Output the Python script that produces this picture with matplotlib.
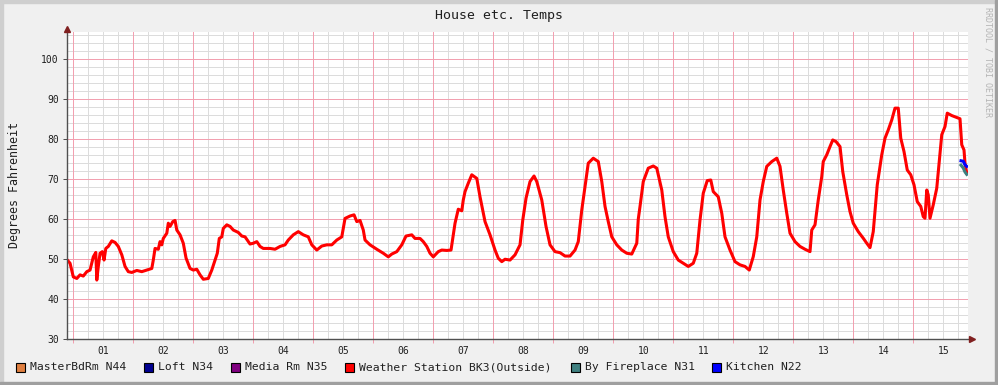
import matplotlib
matplotlib.use("Agg")
import numpy as np
from matplotlib import pyplot as plt
from matplotlib.patches import Rectangle

# hours since midnight of day 01, temperature in F
outside_hours = [
    -2.4, -1.3, 0, 1.4, 2.7, 4, 5.4, 6.7, 8, 9, 9.4, 10, 10.7, 11.6, 12.3, 13, 14, 15.4,
    16.7, 18, 19.4, 20.7, 22, 23.4, 25.4, 27.4, 29.4, 31.4, 32, 32.7, 34, 34.7, 35.4, 36,
    37.4, 38, 38.7, 39.8, 40.7, 41.4, 42.7, 44, 45.1, 46.7, 48, 49.4, 50.7, 52, 54, 55.4,
    56.7, 57.6, 58.4, 59.4, 60, 61.4, 62.7, 64, 66, 67.4, 68.7, 70.7, 72, 73.4, 74.7,
    76, 78.7, 80.7, 82.7, 84.7, 86, 88, 90, 92, 94, 95.4, 97.4, 99.4, 101.4, 103.4, 105.4,
    107.4, 108.7, 110.7, 112.3, 113.4, 114.7, 116, 116.7, 118.7, 121.4, 124, 126, 127.4,
    129.4, 131.4, 133.1, 135.4, 136.7, 138.7, 140, 141.4, 142.7, 144, 146, 147.4, 149.4,
    151.1, 152.7, 154, 155.4, 156, 156.7, 158, 159.4, 161.4, 162.7, 164.7, 166.7, 168.7,
    170, 171.4, 172.7, 174.7, 176.7, 178.7, 179.8, 181.1, 182.7, 184.3, 185.4, 187.4,
    189.1, 190.7, 192.7, 194.7, 196.7, 198.7, 200.7, 202, 203.4, 204.7, 206, 208, 210,
    211.4, 212.7, 214, 215.4, 217.4, 219.4, 221.4, 223.4, 225.4, 226, 226.7, 228, 230,
    232, 233.4, 235.4, 236.7, 238, 240, 242, 244, 246, 248, 249.4, 250.7, 252, 253.6,
    255, 256, 258, 259.4, 260.7, 262.7, 264.7, 266.7, 268.7, 270.4, 272, 273.4, 274.7,
    276, 277.4, 279.4, 281.4, 282.7, 284, 285.4, 286.7, 288.7, 290.7, 292.7, 294.7,
    295.4, 296.7, 298, 299.4, 300, 301.4, 302.7, 303.8, 305.1, 306.7, 307.8, 309.4,
    310.7, 312, 314, 316, 317.4, 318.7, 320, 321.6, 323.4, 324.7, 326, 327.4, 328.7, 330,
    331, 332.3, 333.6, 335, 336.3, 337.6, 339, 340, 340.7, 341.4, 342, 342.7, 344, 345.4,
    346.4, 347.4, 348.7, 349.6, 351.4, 353.4, 354.7, 355.4, 356.3, 356.7, 357.4,
]
outside_temp = [
    49.8, 49, 45.6, 45.2, 46.1, 45.8, 46.9, 47.3, 50.6, 51.7, 44.8, 48.2, 51.5, 51.9, 49.8,
    52.7, 53.2, 54.6, 54.2, 53.2, 51.1, 48.2, 46.9, 46.7, 47.2, 46.9, 47.3, 47.7, 49.8,
    52.7, 52.5, 54.4, 53.6, 55.2, 56.5, 59, 58.2, 59.4, 59.7, 57.3, 56.1, 54, 50.3, 47.7,
    47.3, 47.5, 46.1, 45, 45.2, 47.3, 49.8, 51.5, 55.2, 55.6, 57.7, 58.6, 58.2, 57.3,
    56.7, 55.8, 55.6, 53.8, 54, 54.4, 53.2,
    52.7, 52.7, 52.5, 53.2, 53.6, 54.8, 56.1, 56.9, 56.1, 55.6, 53.6, 52.3, 53.3, 53.6,
    53.6, 54.8, 55.6, 60.2, 60.8, 61.1, 59.4, 59.7, 57.3, 54.8, 53.6, 52.5, 51.5, 50.6,
    51.3, 51.9, 53.6, 55.8, 56.1, 55.2, 55.2, 54.4, 53.2, 51.5, 50.6, 51.9, 52.3, 52.2,
    52.3, 59, 62.5, 62.1, 64.8, 66.9, 69, 71.1, 70.2, 65.6, 59.4, 56.1, 52.3,
    50.25, 49.4, 50, 49.8, 51.1, 53.6, 59.8, 65.25, 69.4, 70.8, 69.4, 64.8,
    58.2, 53.6, 51.9, 51.65, 50.8, 50.8, 52.3, 54.4, 62.3, 68.2, 74, 75.25, 74.4,
    69.4, 63.2, 59.4, 55.6, 53.6, 52.3, 51.5, 51.3, 54, 60, 63.2, 69.4, 72.75,
    73.3, 72.75, 67.3, 60.6, 55.6, 51.9, 49.8, 49, 48.2, 49, 51.5, 59.8, 66.5, 69.65,
    69.8, 66.9, 65.6, 61.5, 55.6, 52.3, 49.4, 48.6, 48.2, 47.3, 50.65, 55.6, 64.8,
    69.4, 73.2, 74.4, 75.25, 73.2, 67.3, 61.5, 56.5, 54.4, 53.2, 52.5, 51.9,
    57.3, 58.6, 64.8, 70.65, 74.4, 76.1, 78.15, 79.8, 79.4, 78.15, 71.9, 66.1,
    61.9, 59, 56.9, 55.25, 54, 52.9, 56.9, 68.6, 76.1, 80.25, 82.3, 84.8, 87.75, 87.75,
    80.25, 76.9, 72.3, 71.1, 68.6, 64.4, 63.2, 60.65, 60.25, 67.3, 66.1, 60.25, 63.6, 67.75,
    74.4, 81.1, 83.15, 86.5, 85.9, 85.4, 85.1, 78.6, 77.3, 74, 71.5,
]

fireplace_hours = [355.1, 356, 356.7, 357.4]
fireplace_temp = [73.5, 72.8, 71.8, 71.2]
kitchen_hours = [355.1, 356, 356.7, 357.4]
kitchen_temp = [74.6, 74.5, 73.6, 73.2]

day_labels = ["01", "02", "03", "04", "05", "06", "07", "08", "09", "10",
              "11", "12", "13", "14", "15"]
legend_names = ["MasterBdRm N44", "Loft N34", "Media Rm N35",
                "Weather Station BK3(Outside)", "By Fireplace N31", "Kitchen N22"]
legend_colors = ["#E07F40", "#000090", "#800080", "#FF0000", "#3F8080", "#0000FF"]

W, H = 998, 385
fig = plt.figure(figsize=(W / 100, H / 100), dpi=100, facecolor="#F0F0F0")

# 3d-ish border
fig.patches.append(Rectangle((0, 1 - 3 / H), 1, 3 / H, transform=fig.transFigure,
                             color="#CFCFCF", zorder=0))
fig.patches.append(Rectangle((0, 0), 3 / W, 1, transform=fig.transFigure,
                             color="#CFCFCF", zorder=0))
fig.patches.append(Rectangle((0, 0), 1, 3 / H, transform=fig.transFigure,
                             color="#9F9F9F", zorder=0))
fig.patches.append(Rectangle((1 - 3 / W, 0), 3 / W, 1, transform=fig.transFigure,
                             color="#9F9F9F", zorder=0))

left, right, top, bottom = 67.3, 968, 32.3, 339.3
ax = fig.add_axes([left / W, (H - bottom) / H, (right - left) / W, (bottom - top) / H])
ax.set_facecolor("white")
ax.set_xlim(-2.4, 357.9)
ax.set_ylim(30, 106.7)

# grid, kept crisp like rrdtool
for h in range(0, 358, 6):
    if h % 24 == 0:
        ax.axvline(h, color="#F2A0B0", lw=0.72, zorder=1, antialiased=False)
    else:
        ax.axvline(h, color="#DCDCDC", lw=0.72, zorder=0.5, antialiased=False)
for t in range(32, 107, 2):
    if t % 10 == 0:
        ax.axhline(t, color="#F2A0B0", lw=0.72, zorder=1, antialiased=False)
    else:
        ax.axhline(t, color="#DCDCDC", lw=0.72, zorder=0.5, antialiased=False)

ax.plot(outside_hours, outside_temp, color="#FF0000", lw=2.2, zorder=3,
        solid_joinstyle="round")
ax.plot(fireplace_hours, fireplace_temp, color="#3F8080", lw=2.2, zorder=4)
ax.plot(kitchen_hours, kitchen_temp, color="#0000FF", lw=2.2, zorder=5)

mono = "DejaVu Sans Mono"
ax.set_xticks([12 + 24 * i for i in range(len(day_labels))])
ax.set_xticklabels(day_labels, fontsize=7, family=mono, color="#202020")
ax.set_xticks(list(range(0, 358, 24)), minor=True)
ax.tick_params(axis="x", which="major", length=0, pad=5)
ax.tick_params(axis="x", which="minor", length=3, color="#F2A0B0", width=0.72)
ax.set_yticks(range(30, 101, 10))
ax.set_yticklabels([str(v) for v in range(30, 101, 10)], fontsize=7, family=mono,
                   color="#202020")
ax.tick_params(axis="y", which="major", length=3, color="#505050", width=0.72, pad=3)

for s in ["top", "right"]:
    ax.spines[s].set_visible(False)
for s in ["left", "bottom"]:
    ax.spines[s].set_color("#505050")
    ax.spines[s].set_linewidth(1.0)
    ax.spines[s].set_zorder(6)

# axis arrows
ax.plot([0], [1.012], transform=ax.transAxes, marker="^", ms=4, color="#802020",
        clip_on=False, zorder=7)
ax.plot([1.004], [0], transform=ax.transAxes, marker=">", ms=4, color="#802020",
        clip_on=False, zorder=7)

fig.text(0.5, 1 - 15 / H, "House etc. Temps", ha="center", va="center",
         family=mono, fontsize=9.5, color="#202020")
fig.text(15 / W, 1 - 185 / H, "Degrees Fahrenheit", ha="center", va="center",
         rotation=90, family=mono, fontsize=8.4, color="#202020")
fig.text(988 / W, 1 - 7 / H, "RRDTOOL / TOBI OETIKER", ha="center", va="top",
         rotation=270, family=mono, fontsize=6, color="#B4B4B4")

# legend
box_x = [16, 144, 231, 345, 571, 712]
for name, col, bx in zip(legend_names, legend_colors, box_x):
    fig.patches.append(Rectangle((bx / W, 1 - 372 / H), 9 / W, 9 / H,
                                 transform=fig.transFigure, facecolor=col,
                                 edgecolor="black", lw=0.8))
    fig.text((bx + 14) / W, 1 - 367 / H, name, ha="left", va="center",
             family=mono, fontsize=8.2, color="#202020")

fig.savefig("out.png", dpi=100, facecolor=fig.get_facecolor())
